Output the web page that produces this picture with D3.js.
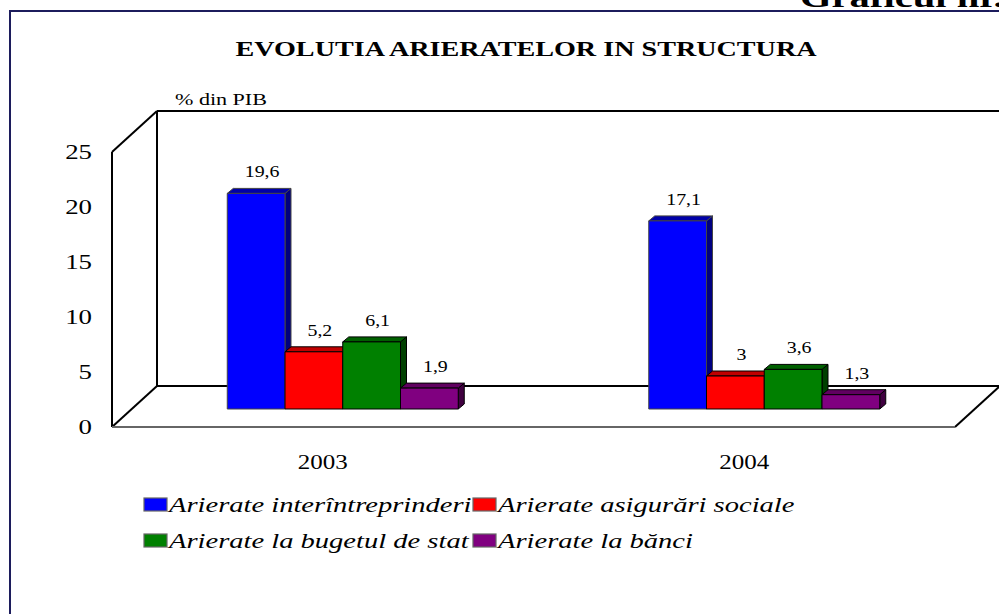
<!DOCTYPE html>
<html>
<head>
<meta charset="utf-8">
<script src="https://cdn.jsdelivr.net/npm/d3@7/dist/d3.min.js"></script>
<style>
html,body{margin:0;padding:0;background:#fff;}
svg{display:block;}
</style>
</head>
<body>
<svg id="chart" width="999" height="614"></svg>
<script>
// ---- data ----
const categories = ["2003", "2004"];
const seriesNames = ["Arierate interîntreprinderi", "Arierate asigurări sociale", "Arierate la bugetul de stat", "Arierate la bănci"];
const values2003 = [19.6, 5.2, 6.1, 1.9];
const values2004 = [17.1, 3, 3.6, 1.3];
const valueLabels2003 = ["19,6", "5,2", "6,1", "1,9"];
const valueLabels2004 = ["17,1", "3", "3,6", "1,3"];
const yTicks = [0, 5, 10, 15, 20, 25];
const title = "EVOLUTIA ARIERATELOR IN STRUCTURA";
const unitLabel = "%  din PIB";
const cornerLabel = "Graficul nr.2";

// ---- styles ----
const frontColors = ["#0000ff", "#ff0000", "#008000", "#800080"];
const topColors   = ["#0000a8", "#c00000", "#006000", "#600060"];
const sideColors  = ["#000080", "#900000", "#004000", "#400040"];
const outlineColors = ["#444", "#000", "#000", "#000"];

const svg = d3.select("#chart");

// geometry of the 3D box
const plotLeft = 112, plotRight = 955;
const depthX = 45, depthY = -41;          // wall depth
const barDX = 20, barDY = -18;            // bar row depth position
const capDX = 6, capDY = -5;              // bar thickness

const y = d3.scaleLinear().domain([0, 25]).range([427, 152]);
const x = d3.scaleBand().domain(categories).range([plotLeft, plotRight]).padding(0);
const groupW = 231;
const inner = d3.scaleBand().domain(d3.range(seriesNames.length)).range([-groupW / 2, groupW / 2]).padding(0);

function stext(g, px, py, str, size, opts = {}) {
  const sx = opts.sx || 1.28;
  return g.append("text")
    .attr("transform", `translate(${px},${py}) scale(${sx},1)`)
    .attr("text-anchor", opts.anchor || "middle")
    .attr("font-family", "Liberation Serif")
    .attr("font-size", size)
    .attr("font-weight", opts.weight || "normal")
    .attr("font-style", opts.style || "normal")
    .attr("fill", "#000")
    .text(str);
}

// frame
svg.append("rect").attr("x", 10).attr("y", 11).attr("width", 1010).attr("height", 700)
  .attr("fill", "#fff").attr("stroke", "#1c1c5c").attr("stroke-width", 2);

// corner label (cut at top, as in the original)
stext(svg, 800, 7, cornerLabel, 28, { anchor: "start", weight: "bold", sx: 1.45 });

// title
stext(svg, 526, 56, title, 21, { weight: "bold", sx: 1.34 });
// unit label
stext(svg, 175, 105, unitLabel, 16, { anchor: "start", sx: 1.38 });

// walls and floor
const y0 = y(0), yTop = y(25);
const walls = svg.append("g").attr("fill", "none").attr("stroke", "#000").attr("stroke-width", 2);
const line = d3.line();
walls.append("path").attr("d", line([[plotLeft + depthX, yTop + depthY], [plotLeft + depthX, y0 + depthY]]));
walls.append("path").attr("d", line([[plotLeft + depthX, yTop + depthY], [plotRight + depthX + 5, yTop + depthY]]));
walls.append("path").attr("d", line([[plotLeft, yTop], [plotLeft, y0]]));
walls.append("path").attr("d", line([[plotLeft, yTop], [plotLeft + depthX, yTop + depthY]]));
walls.append("path").attr("d", line([[plotLeft, y0], [plotLeft + depthX, y0 + depthY]]));
walls.append("path").attr("d", line([[plotLeft + depthX, y0 + depthY], [plotRight + depthX + 5, y0 + depthY]]));
walls.append("path").attr("d", line([[plotRight, y0], [plotRight + depthX, y0 + depthY]]));
walls.append("path").attr("d", line([[plotLeft, y0], [plotRight, y0]])).attr("stroke", "#666");

// y tick labels
yTicks.forEach(t => {
  stext(svg, 92, y(t) + 7, String(t), 21, { anchor: "end", sx: 1.28 });
});

// bars
const data = [
  { cat: categories[0], vals: values2003, labels: valueLabels2003 },
  { cat: categories[1], vals: values2004, labels: valueLabels2004 }
];
const barsG = svg.append("g");
data.forEach(d => {
  const cx = x(d.cat) + x.bandwidth() / 2;
  d.vals.forEach((v, i) => {
    const x0 = cx + inner(i) + barDX;
    const x1 = x0 + inner.bandwidth();
    const yb = y(0) + barDY;
    const yt = y(v) + barDY;
    const g = barsG.append("g").attr("stroke", outlineColors[i]).attr("stroke-width", 1).attr("stroke-linejoin", "round");
    g.append("path").attr("fill", sideColors[i])
      .attr("d", line([[x1, yt], [x1 + capDX, yt + capDY], [x1 + capDX, yb + capDY], [x1, yb]]) + "Z");
    g.append("path").attr("fill", topColors[i])
      .attr("d", line([[x0, yt], [x0 + capDX, yt + capDY], [x1 + capDX, yt + capDY], [x1, yt]]) + "Z");
    g.append("rect").attr("x", x0).attr("y", yt).attr("width", x1 - x0).attr("height", yb - yt)
      .attr("fill", frontColors[i]);
    stext(svg, (x0 + x1) / 2 + 6, yt + capDY - 11, d.labels[i], 17, { sx: 1.17 });
  });
  stext(svg, cx, 469, d.cat, 20, { sx: 1.25 });
});

// legend
const legend = svg.append("g");
const legendRows = [[0, 1], [2, 3]];
const colX = [144, 473];
legendRows.forEach((row, r) => {
  const by = 512 + r * 36;
  row.forEach((si, c) => {
    const lx = colX[c];
    legend.append("rect").attr("x", lx).attr("y", by - 14).attr("width", 23).attr("height", 13)
      .attr("fill", frontColors[si]).attr("stroke", "#666").attr("stroke-width", 1.2);
    stext(legend, lx + 25, by, seriesNames[si], 21, { anchor: "start", style: "italic", sx: 1.36 });
  });
});
</script>
</body>
</html>
